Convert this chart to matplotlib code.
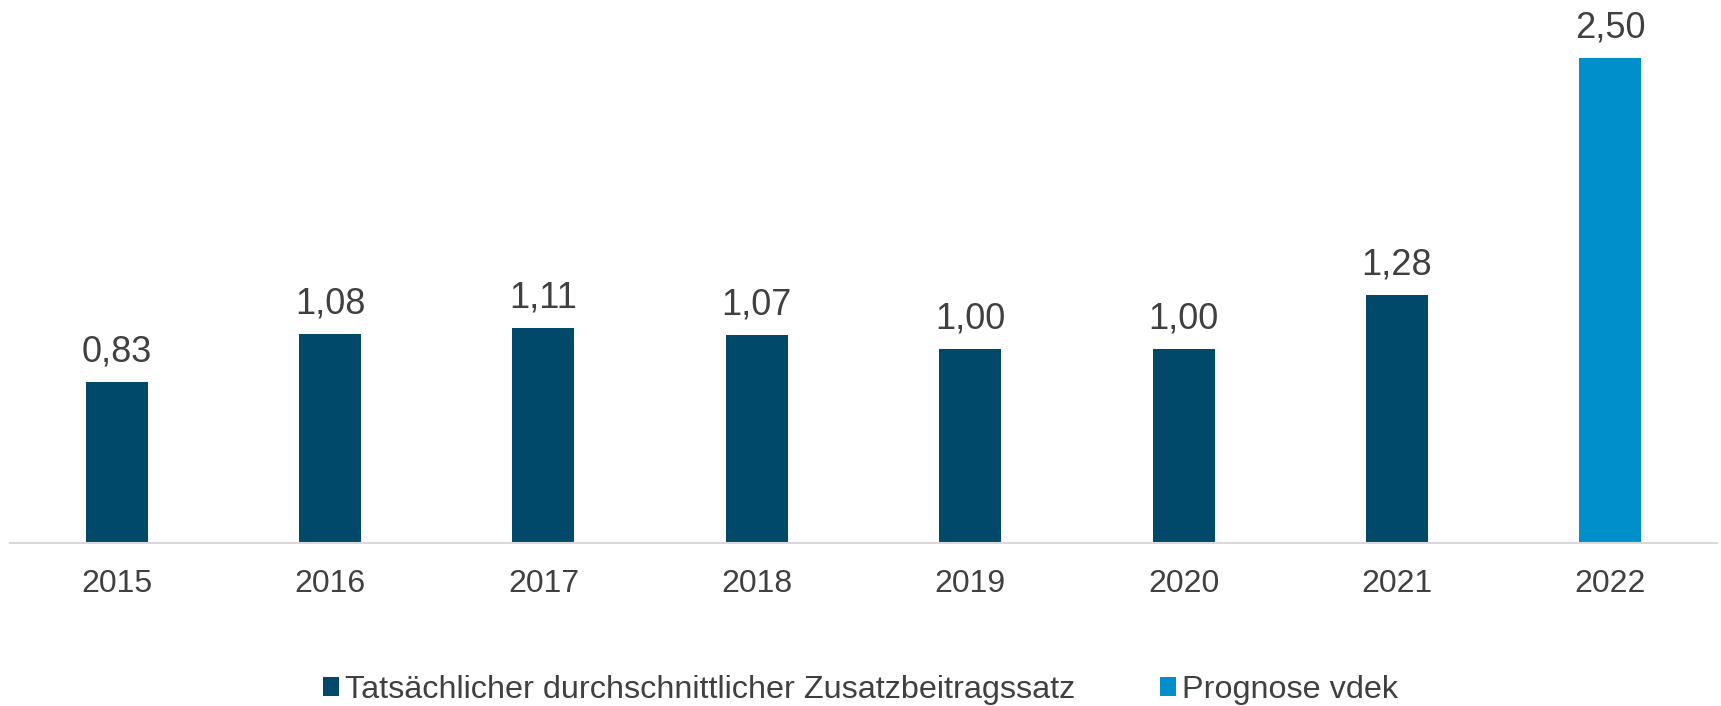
import matplotlib.pyplot as plt

years = ['2015', '2016', '2017', '2018', '2019', '2020', '2021', '2022']
actual = [0.83, 1.08, 1.11, 1.07, 1.00, 1.00, 1.28]
forecast = [2.50]

label_actual = 'Tatsächlicher durchschnittlicher Zusatzbeitragssatz'
label_forecast = 'Prognose vdek'

dark = '#00496A'
light = '#008FCB'
txt = '#404040'

plt.rcParams['font.family'] = ['Liberation Sans', 'DejaVu Sans']

fig = plt.figure(figsize=(17.21, 7.06), dpi=100)
ax = fig.add_axes([10 / 1721, 163 / 706, 1707 / 1721, 543 / 706])

x_act = list(range(len(actual)))
x_fc = [len(actual) + i for i in range(len(forecast))]
w = 0.29
b1 = ax.bar(x_act, actual, width=w, color=dark, label=label_actual)
b2 = ax.bar(x_fc, forecast, width=w, color=light, label=label_forecast)

for bars in (b1, b2):
    ax.bar_label(bars, labels=[f'{v:.2f}'.replace('.', ',') for v in bars.datavalues],
                 padding=9, fontsize=26, color=txt)

ax.set_xlim(-0.5, len(years) - 0.5)
ax.set_ylim(0, 2.80)
ax.set_xticks(range(len(years)))
ax.set_xticklabels(years, fontsize=23, color=txt)
ax.tick_params(axis='x', length=0, pad=19)
ax.set_yticks([])
for s in ['top', 'right', 'left']:
    ax.spines[s].set_visible(False)
ax.spines['bottom'].set_color('#D9D9D9')
ax.spines['bottom'].set_linewidth(1.5)

fig.legend(handles=[b1, b2], loc='center', bbox_to_anchor=(0.5, 1 - 690 / 706),
           ncol=2, frameon=False, fontsize=23.3, labelcolor=txt,
           handlelength=0.5, handleheight=0.5, handletextpad=0.2,
           columnspacing=2.6)

fig.savefig('out.png', dpi=100)
